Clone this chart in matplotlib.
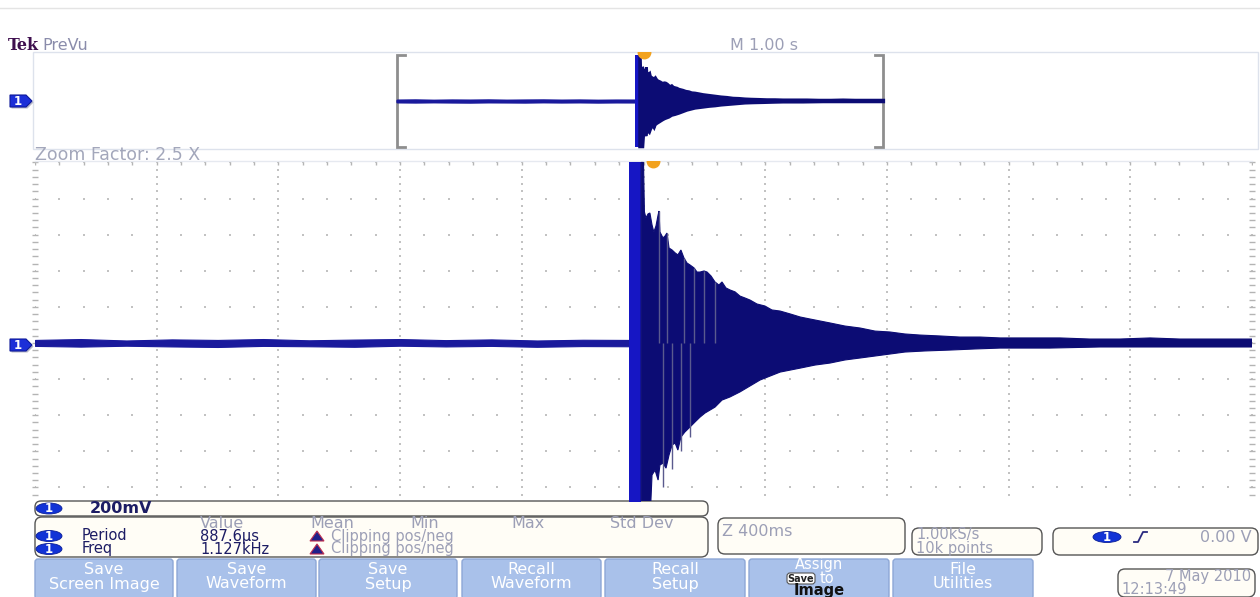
import matplotlib
matplotlib.use("Agg")
import matplotlib.pyplot as plt
import numpy as np
from matplotlib.patches import FancyBboxPatch, Polygon, Ellipse, Rectangle
from matplotlib.transforms import blended_transform_factory

# ---------------- data ----------------
# time in s from start of zoom window (400 ms/div, 10 div), volts (200 mV/div)
pre_t  = [0.00, 0.15, 0.30, 0.45, 0.60, 0.75, 0.90, 1.05, 1.20, 1.35, 1.50, 1.65, 1.80, 1.952]
pre_hi = [0.017, 0.022, 0.014, 0.020, 0.017, 0.022, 0.015, 0.019, 0.022, 0.016, 0.020, 0.014, 0.018, 0.017]
pre_lo = [-0.016, -0.020, -0.015, -0.019, -0.022, -0.016, -0.018, -0.021, -0.015, -0.019, -0.016, -0.021, -0.017, -0.018]

clip_start, clip_end = 1.952, 1.992   # clipped burst block
clip_level = 1.0

up_t = [1.992, 2.000, 2.003, 2.008, 2.015, 2.021, 2.028, 2.034, 2.041, 2.048, 2.051, 2.054,
        2.064, 2.071, 2.077, 2.084, 2.094, 2.104, 2.113, 2.123, 2.133, 2.143, 2.153, 2.166,
        2.176, 2.186, 2.199, 2.209, 2.222, 2.235, 2.248, 2.258, 2.271, 2.284, 2.301, 2.317,
        2.334, 2.350, 2.373, 2.399, 2.422, 2.449, 2.482, 2.515, 2.547, 2.580, 2.613, 2.662,
        2.712, 2.761, 2.810, 2.859, 2.909, 2.974, 3.040, 3.106, 3.172, 3.270, 3.369, 3.467,
        3.566, 3.665, 3.763, 3.862, 4.000]
up_v = [1.0, 1.0, 0.726, 0.693, 0.715, 0.720, 0.654, 0.615, 0.648, 0.709, 0.731, 0.615,
        0.582, 0.593, 0.609, 0.526, 0.515, 0.499, 0.488, 0.515, 0.471, 0.443, 0.432, 0.416,
        0.393, 0.393, 0.399, 0.393, 0.371, 0.338, 0.321, 0.338, 0.305, 0.294, 0.283, 0.260,
        0.249, 0.238, 0.216, 0.205, 0.183, 0.177, 0.161, 0.144, 0.133, 0.122, 0.111, 0.094,
        0.083, 0.066, 0.061, 0.050, 0.044, 0.039, 0.033, 0.033, 0.028, 0.028, 0.028, 0.022,
        0.022, 0.028, 0.022, 0.022, 0.022]

lo_t = [1.992, 2.021, 2.028, 2.038, 2.048, 2.054, 2.064, 2.074, 2.084, 2.094, 2.104, 2.113,
        2.123, 2.136, 2.153, 2.169, 2.186, 2.202, 2.219, 2.235, 2.258, 2.284, 2.317, 2.350,
        2.383, 2.416, 2.449, 2.482, 2.515, 2.564, 2.613, 2.662, 2.712, 2.761, 2.810, 2.859,
        2.925, 3.007, 3.089, 3.172, 3.336, 3.500, 3.665, 3.829, 4.000]
lo_v = [-1.0, -1.0, -0.731, -0.704, -0.759, -0.676, -0.665, -0.693, -0.620, -0.565, -0.554, -0.593,
        -0.521, -0.493, -0.465, -0.438, -0.410, -0.388, -0.371, -0.355, -0.316, -0.299, -0.271, -0.238,
        -0.205, -0.183, -0.161, -0.150, -0.139, -0.122, -0.111, -0.094, -0.083, -0.072, -0.061, -0.050,
        -0.044, -0.039, -0.033, -0.028, -0.028, -0.022, -0.022, -0.022, -0.022]

# lighter isolated spikes visible in the decay (time, peak volts)
spike_t = [2.051, 2.077, 2.133, 2.166, 2.199, 2.235, 2.064, 2.094, 2.123, 2.153]
spike_v = [0.731, 0.609, 0.471, 0.416, 0.399, 0.338, -0.80, -0.70, -0.60, -0.52]

trigger_t = 2.03

headers = ["Value", "Mean", "Min", "Max", "Std Dev"]
meas_names = ["Period", "Freq"]
meas_values = ["887.6µs", "1.127kHz"]
meas_status = ["Clipping pos/neg", "Clipping pos/neg"]
buttons = [("Save", "Screen Image"), ("Save", "Waveform"), ("Save", "Setup"),
           ("Recall", "Waveform"), ("Recall", "Setup"), ("Assign", "Image"), ("File", "Utilities")]

# ---------------- figure ----------------
W, H = 1260, 597
fig = plt.figure(figsize=(W / 100, H / 100), dpi=100)
fig.patch.set_facecolor("white")

ui = fig.add_axes([0, 0, 1, 1], zorder=0)
ui.set_xlim(0, W)
ui.set_ylim(H, 0)
ui.axis("off")


def px_axes(x0, x1, y0, y1, z=2):
    return fig.add_axes([x0 / W, (H - y1) / H, (x1 - x0) / W, (y1 - y0) / H], zorder=z)


NAVY = "#0c0c74"
BRIGHT = "#1616c4"
NOISE = "#1a1a9c"
GRIDC = "#c2c2c2"
GRAYTXT = "#9c9fb6"
DARKTXT = "#1c1c64"
FS = 11.5
FS_ROW = 10.5

# top faint line
ui.plot([0, W], [8, 8], color="#e4e4e4", lw=1)

# ---------------- overview ----------------
ui.add_patch(Rectangle((33, 52), 1225, 97, fill=False, ec="#dde2ec", lw=1))
ov = px_axes(35, 1252, 52, 149)
ov.set_facecolor("none")
ov.set_xlim(-2.975, 7.025)
ov.set_ylim(-1.043, 1.065)
ov.axis("off")


def draw_wave(ax, lw, spikes=True):
    ax.fill_between(pre_t, pre_lo, pre_hi, color=NOISE, lw=lw, edgecolor=NOISE, zorder=3)
    ax.fill_between([clip_start, clip_end], [-clip_level] * 2, [clip_level] * 2,
                    color=BRIGHT, lw=0, zorder=3)
    poly_x = list(up_t) + list(lo_t[::-1])
    poly_y = list(up_v) + list(lo_v[::-1])
    ax.fill(poly_x, poly_y, color=NAVY, lw=lw, edgecolor=NAVY, zorder=3)
    if spikes:
        ax.vlines(spike_t, 0, spike_v, color="#5a5a8e", lw=1.0, zorder=4)


draw_wave(ov, 1.8, spikes=False)
for bx, d in [(397, 1), (883, -1)]:
    ui.plot([bx + 8 * d, bx, bx, bx + 8 * d], [55, 55, 147, 147], color="#8e8e8e", lw=2,
            solid_joinstyle="miter")
ui.text(8, 46, "Tek", fontsize=11.5, fontweight="bold", family="DejaVu Serif",
        color="#3e0f4e", va="center", ha="left")
ui.text(42, 46, "PreVu", fontsize=11.5, color="#8a8cab", va="center", ha="left")
ui.text(730, 46, "M 1.00 s", fontsize=11.5, color=GRAYTXT, va="center", ha="left")
ui.text(35, 155, "Zoom Factor: 2.5 X", fontsize=12.5, color="#a3a7bb", va="center", ha="left")

# ---------------- main graticule ----------------
ax = px_axes(35, 1252, 161, 501)
ax.set_facecolor("none")
ax.set_xlim(0, 4)
ax.set_ylim(-0.875, 1.008)
ax.axis("off")

majors_x = np.arange(0, 4.0001, 0.4)
rows_y = np.arange(-0.8, 1.0001, 0.2)
subs_x = np.arange(0, 4.0001, 0.08)
subs_y = np.arange(-0.84, 1.0001, 0.04)
for yy in rows_y:
    ax.plot(subs_x, [yy] * len(subs_x), ls="none", marker="s", ms=1.7, color=GRIDC, mew=0, zorder=1)
for xx in majors_x[1:-1]:
    ax.plot([xx] * len(subs_y), subs_y, ls="none", marker="s", ms=1.5, color=GRIDC, mew=0, zorder=1)
tr = blended_transform_factory(ax.transAxes, ax.transData)
for xa in (0.0, 1.0):
    ax.plot([xa] * len(subs_y), subs_y, ls="none", marker="_", ms=4, color="#b4b4b4",
            mew=1, transform=tr, clip_on=False, zorder=1)
trx = blended_transform_factory(ax.transData, ax.transAxes)
ax.plot(subs_x, [0.994] * len(subs_x), ls="none", marker="|", ms=3, color="#b4b4b4",
        mew=1, transform=trx, zorder=1)
ax.plot([0, 1], [1.0, 1.0], color="#e6e9f0", lw=1, transform=ax.transAxes, clip_on=False, zorder=1)

draw_wave(ax, 0.8)

ax.plot([trigger_t], [1.0], marker="o", ms=9, color="#f2a21e", mec="#f2a21e",
        transform=trx, clip_on=True, zorder=5)
ov.plot([trigger_t], [1.0], marker="o", ms=9, color="#f2a21e", mec="#f2a21e",
        transform=blended_transform_factory(ov.transData, ov.transAxes), clip_on=True, zorder=5)


def chan_marker(y):
    pts = [(10, y - 6), (26, y - 6), (32, y), (26, y + 6), (10, y + 6)]
    ui.add_patch(Polygon([(p[0] + 1.5, p[1] + 1.5) for p in pts], closed=True, fc="#b8b8c8", ec="none"))
    ui.add_patch(Polygon(pts, closed=True, fc="#1c2fd8", ec="#0e1a9a", lw=0.8))
    ui.text(18, y + 0.5, "1", color="white", fontsize=8.5, fontweight="bold", ha="center", va="center")


chan_marker(101)
chan_marker(345)


def rbox(x0, y0, x1, y1, fc="#fffdf6", ec="#555555", r=7, lw=1.0):
    ui.add_patch(FancyBboxPatch((x0, y0), x1 - x0, y1 - y0,
                                boxstyle=f"round,pad=0,rounding_size={r}",
                                fc=fc, ec=ec, lw=lw))


def oval1(x, y, w=26, h=11):
    ui.add_patch(Ellipse((x, y), w, h, fc="#1233d6", ec="#0c1f96", lw=0.6))
    ui.text(x, y + 0.5, "1", color="white", fontsize=8.5, fontweight="bold", ha="center", va="center")


# ---------------- readout boxes ----------------
rbox(35, 501, 708, 516, r=6)
oval1(49, 508.5)
ui.text(90, 508.5, "200mV", fontsize=FS, fontweight="bold", color=DARKTXT, va="center", ha="left")

rbox(35, 517, 708, 557, r=7)
for hx, h in zip([200, 310, 410, 511, 610], headers):
    ui.text(hx, 523, h, fontsize=FS, color=GRAYTXT, va="center", ha="left")
for i, (nm, val, st) in enumerate(zip(meas_names, meas_values, meas_status)):
    yy = 536 + 13 * i
    oval1(49, yy)
    ui.text(82, yy, nm, fontsize=FS_ROW, color=DARKTXT, va="center", ha="left")
    ui.text(200, yy, val, fontsize=FS_ROW, color=DARKTXT, va="center", ha="left")
    ui.add_patch(Polygon([(310, yy + 5), (317, yy - 5), (324, yy + 5)], closed=True,
                         fc="#20208a", ec="#c03050", lw=0.8))
    ui.text(331, yy, st, fontsize=FS_ROW, color=GRAYTXT, va="center", ha="left")

rbox(718, 518, 905, 554, r=7)
ui.text(722, 531, "Z 400ms", fontsize=FS, color=GRAYTXT, va="center", ha="left")

rbox(912, 528, 1042, 555, r=7)
ui.text(916, 535, "1.00kS/s", fontsize=FS_ROW, color=GRAYTXT, va="center", ha="left")
ui.text(916, 548, "10k points", fontsize=FS_ROW, color=GRAYTXT, va="center", ha="left")

rbox(1053, 528, 1258, 555, r=7)
oval1(1107, 537, w=28, h=11)
ui.plot([1134, 1138, 1143, 1147], [542, 542, 532, 532], color="#2a2a80", lw=1.3)
ui.text(1252, 537, "0.00 V", fontsize=FS, color=GRAYTXT, va="center", ha="right")

# ---------------- buttons ----------------
btn_x = [(35, 173), (177, 316), (319, 457), (462, 601), (605, 745), (749, 889), (893, 1033)]
for (x0, x1), (l1, l2) in zip(btn_x, buttons):
    ui.add_patch(FancyBboxPatch((x0, 559), x1 - x0, 40, boxstyle="round,pad=0,rounding_size=3",
                                fc="#a9c1ea", ec="#8da7d6", lw=1))
    cx = (x0 + x1) / 2
    if l1 == "Assign":
        ui.text(cx, 565, "Assign", fontsize=FS_ROW, color="white", ha="center", va="center")
        rbox(cx - 32, 573, cx - 4, 584, fc="white", ec="#555555", r=3, lw=0.8)
        ui.text(cx - 18, 578.5, "Save", fontsize=7, color="#222222", fontweight="bold",
                ha="center", va="center")
        ui.text(cx + 1, 578.5, "to", fontsize=FS_ROW, color="white", ha="left", va="center")
        ui.text(cx, 591, "Image", fontsize=FS_ROW, color="#111111", fontweight="bold",
                ha="center", va="center")
    else:
        ui.text(cx, 570, l1, fontsize=FS, color="white", ha="center", va="center")
        ui.text(cx, 584, l2, fontsize=FS, color="white", ha="center", va="center")

rbox(1118, 569, 1255, 597, r=7)
ui.text(1251, 576, "7 May 2010", fontsize=FS_ROW, color=GRAYTXT, va="center", ha="right")
ui.text(1121, 589, "12:13:49", fontsize=FS_ROW, color=GRAYTXT, va="center", ha="left")

fig.savefig("out.png", dpi=100, facecolor="white")
